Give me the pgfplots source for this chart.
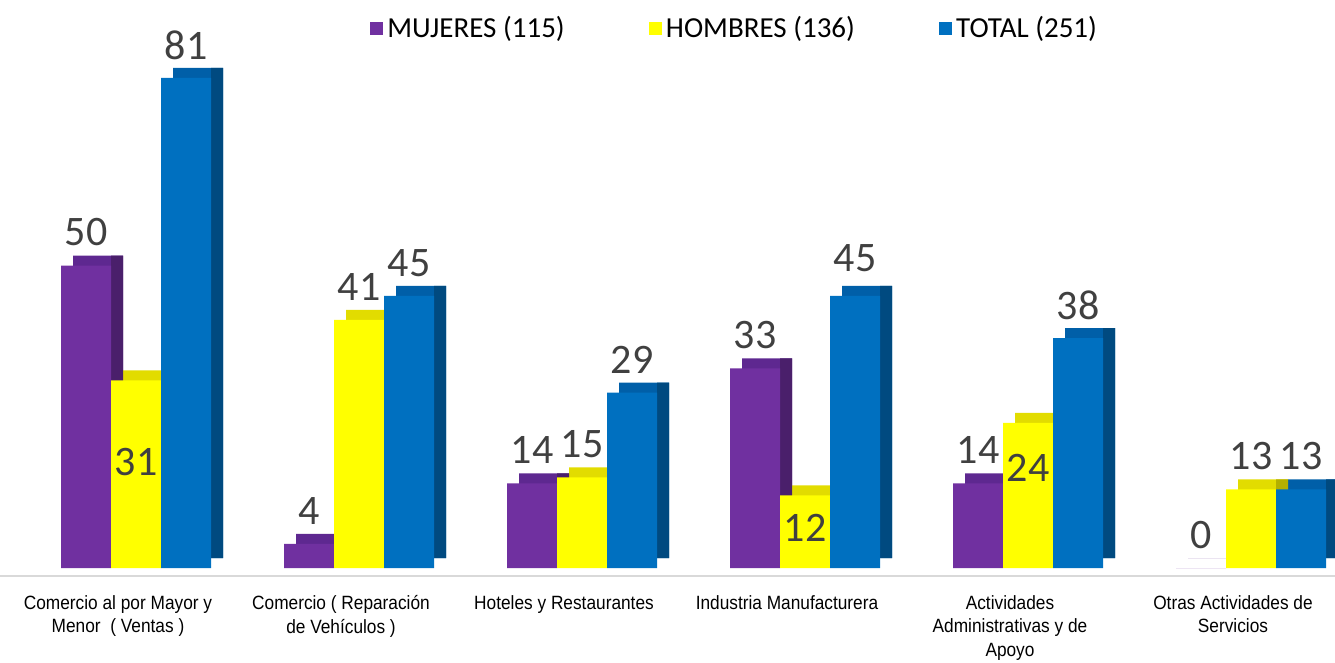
\documentclass[border=0pt]{standalone}
\usepackage{fontspec}
\usepackage{pgfplots}
\pgfplotsset{compat=1.18}
\usepackage{pgfplotstable}
\newfontfamily\calib{Carlito}
\newfontfamily\narrowfont[FakeStretch=0.9]{Liberation Sans}
\definecolor{cpurple}{HTML}{7030A0}
\definecolor{cpurpletop}{HTML}{5E2890}
\definecolor{cpurpleside}{HTML}{4A1F6B}
\definecolor{cyellow}{HTML}{FFFF00}
\definecolor{cyellowtop}{HTML}{E2DC00}
\definecolor{cyellowside}{HTML}{B3B000}
\definecolor{cblue}{HTML}{0070C0}
\definecolor{cbluetop}{HTML}{005FA8}
\definecolor{cblueside}{HTML}{004A80}
\definecolor{textgray}{HTML}{404040}
\definecolor{axisgray}{HTML}{D9D9D9}

% x  value  label offset (pt)
\pgfplotstableread{
x y dy
0 50 16.5
1 4 16.5
2 14 16.5
3 33 16.5
4 14 16.5
5 0 16.5
}\mujeres
\pgfplotstableread{
x y dy
0 31 -40.75
1 41 16.5
2 15 16.5
3 12 -16.3
4 24 -22.5
5 13 16.5
}\hombres
\pgfplotstableread{
x y dy
0 81 16.5
1 45 16.5
2 29 16.5
3 45 19
4 38 16.5
5 13 16.5
}\total

\begin{document}
\begin{tikzpicture}
\begin{axis}[
    scale only axis,
    width=667.5pt, height=288pt,
    ybar, bar width=25pt,
    xmin=-0.6099, xmax=5.3767,
    ymin=-1.32, ymax=93.89,
    axis y line=none,
    axis x line*=bottom,
    x axis line style={draw=axisgray, line width=1.2pt},
    xtick={0,1,2,3,4,5},
    xticklabels={{Comercio al por Mayor y\\Menor \ ( Ventas )},
                 {Comercio ( Reparación\\de Vehículos )},
                 {Hoteles y Restaurantes},
                 {Industria Manufacturera},
                 {Actividades\\Administrativas y de\\Apoyo},
                 {Otras Actividades de\\Servicios}},
    major tick length=0pt,
    xticklabel style={align=center, text=black, xshift=-9pt, yshift=-9.5pt,
        inner sep=0pt, font=\narrowfont\fontsize{9.6}{11.8}\selectfont},
    legend columns=3,
    legend style={at={(0.551,0.951)}, anchor=center, draw=none, fill=none,
        font=\calib\fontsize{14.5}{16}\selectfont,
        /tikz/every even column/.append style={column sep=40pt}},
    legend image code/.code={\fill[#1] (0pt,-3.3pt) rectangle (6.6pt,3.3pt);},
    /pgf/number format/assume math mode=true,
    nodes near coords style={font=\calib\fontsize{21}{21}\selectfont, text=textgray},
]
% top faces
\addplot[fill=cpurpletop, draw=none, bar shift=-19pt, yshift=5pt, forget plot] table[x=x,y=y]{\mujeres};
\addplot[fill=cyellowtop, draw=none, bar shift=6pt, yshift=5pt, forget plot] table[x=x,y=y]{\hombres};
\addplot[fill=cbluetop, draw=none, bar shift=31pt, yshift=5pt, forget plot] table[x=x,y=y]{\total};
% side faces
\addplot[fill=cpurpleside, draw=none, bar width=6pt, bar shift=-9.5pt, yshift=5pt, forget plot] table[x=x,y=y]{\mujeres};
\addplot[fill=cyellowside, draw=none, bar width=6pt, bar shift=15.5pt, yshift=5pt, forget plot] table[x=x,y=y]{\hombres};
\addplot[fill=cblueside, draw=none, bar width=6pt, bar shift=40.5pt, yshift=5pt, forget plot] table[x=x,y=y]{\total};
% front faces
\addplot[fill=cpurple, draw=none, bar shift=-25pt, nodes near coords,
    visualization depends on={\thisrow{dy} \as \dy},
    every node near coord/.append style={anchor=center, yshift=\dy pt}]
    table[x=x,y=y]{\mujeres};
\addlegendentry{MUJERES (115)}
\addplot[fill=cyellow, draw=none, bar shift=0pt, nodes near coords,
    visualization depends on={\thisrow{dy} \as \dy},
    every node near coord/.append style={anchor=center, yshift=\dy pt}]
    table[x=x,y=y]{\hombres};
\addlegendentry{HOMBRES (136)}
\addplot[fill=cblue, draw=none, bar shift=25pt, nodes near coords,
    visualization depends on={\thisrow{dy} \as \dy},
    every node near coord/.append style={anchor=center, yshift=\dy pt}]
    table[x=x,y=y]{\total};
\addlegendentry{TOTAL (251)}
\end{axis}
\pgfresetboundingbox
\path (current axis.south west) ++(0pt,-43.5pt) rectangle (current axis.north east);
\end{tikzpicture}
\end{document}
